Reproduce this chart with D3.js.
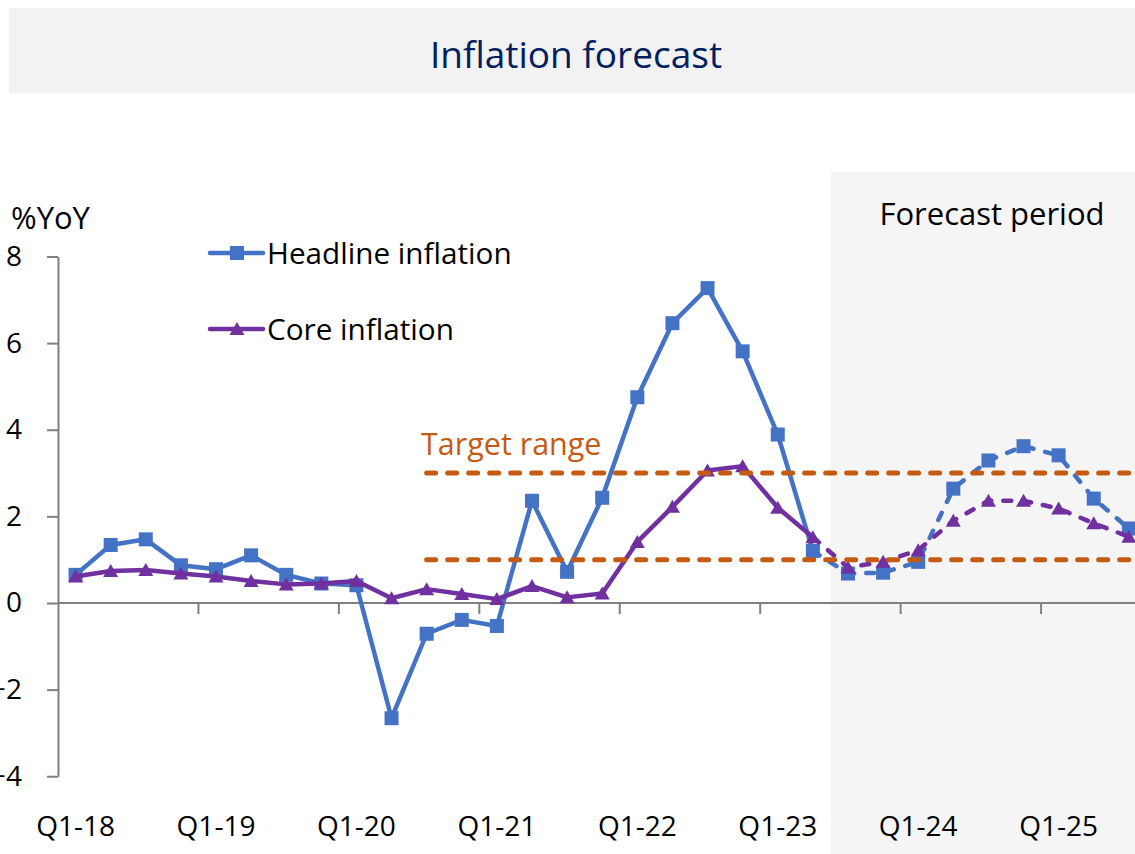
<!DOCTYPE html>
<html><head><meta charset="utf-8">
<script src="https://cdn.jsdelivr.net/npm/d3@7"></script>
<style>
body{margin:0;background:#fff}
svg{display:block}
text{font-family:"Open Sans","Noto Sans",sans-serif}
</style>
</head><body>
<svg id="c" width="1135" height="854"></svg>
<script>
// ---------- DATA ----------
const categories = [
  "Q1-18","Q2-18","Q3-18","Q4-18",
  "Q1-19","Q2-19","Q3-19","Q4-19",
  "Q1-20","Q2-20","Q3-20","Q4-20",
  "Q1-21","Q2-21","Q3-21","Q4-21",
  "Q1-22","Q2-22","Q3-22","Q4-22",
  "Q1-23","Q2-23","Q3-23","Q4-23",
  "Q1-24","Q2-24","Q3-24","Q4-24",
  "Q1-25","Q2-25","Q3-25","Q4-25"
];
const xTickLabels = ["Q1-18","Q1-19","Q1-20","Q1-21","Q1-22","Q1-23","Q1-24","Q1-25"];
const yTickValues = [-4,-2,0,2,4,6,8];

const headline = [0.65,1.34,1.47,0.87,0.78,1.10,0.65,0.45,0.41,-2.66,-0.71,-0.39,-0.53,2.36,0.72,2.43,
                  4.75,6.46,7.27,5.81,3.89,1.20,0.68,0.70,0.95,2.64,3.29,3.62,3.41,2.41,1.72];
const core     = [0.61,0.74,0.76,0.68,0.61,0.51,0.43,0.45,0.51,0.11,0.32,0.21,0.09,0.39,0.13,0.22,
                  1.41,2.22,3.06,3.16,2.20,1.52,0.82,0.95,1.22,1.90,2.36,2.36,2.18,1.84,1.53];
const targetUpper = [null,null,null,null,null,null,null,null,null,null,3,3,3,3,3,3,3,3,3,3,3,3,3,3,3,3,3,3,3,3,3];
const targetLower = [null,null,null,null,null,null,null,null,null,null,1,1,1,1,1,1,1,1,1,1,1,1,1,1,1,1,1,1,1,1,1];
const forecastFrom = "Q2-23";      // dashed lines start here
const shadeFrom = "Q3-23";         // forecast period shading starts here

// ---------- STYLES ----------
const BLUE = "#4472C4", PURPLE = "#7030A0", ORANGE = "#C55A11", AXIS = "#808080";

const svg = d3.select("#c");
const x = d3.scaleBand().domain(categories).range([58, 58 + 32 * 35.11]).padding(0);
const cx = c => x(c) + x.bandwidth() / 2;
const y = d3.scaleLinear().domain([-4, 8]).range([776.25, 256.5]);

// Title box
svg.append("rect").attr("x", 9).attr("y", 8).attr("width", 1135).attr("height", 85).attr("fill", "#f2f2f2");
svg.append("text").attr("x", 576).attr("y", 68).attr("text-anchor", "middle")
  .attr("font-size", 37).attr("fill", "#002060").text("Inflation forecast");

// Forecast shading
svg.append("rect").attr("x", x(shadeFrom)).attr("y", 172)
  .attr("width", 1135 - x(shadeFrom)).attr("height", 854 - 172).attr("fill", "#f5f5f5");
svg.append("text").attr("x", 992).attr("y", 225).attr("text-anchor", "middle")
  .attr("font-size", 31).attr("fill", "#000").text("Forecast period");

// %YoY
svg.append("text").attr("x", 11).attr("y", 229).attr("font-size", 31).attr("fill", "#000").text("%YoY");

// Y axis
const yAxis = svg.append("g").attr("transform", "translate(58,0)")
  .call(d3.axisLeft(y).tickValues(yTickValues).tickSize(11).tickSizeOuter(0).tickPadding(25));
yAxis.selectAll("path,line").attr("stroke", AXIS).attr("stroke-width", 2);
yAxis.selectAll("text").attr("font-size", 28).attr("fill", "#000").attr("font-family", "'Open Sans',sans-serif");

// X axis
const xAxis = svg.append("g").attr("transform", `translate(0,${y(0)})`)
  .call(d3.axisBottom(x).tickValues(xTickLabels).tickSize(0).tickSizeOuter(0));
xAxis.select(".domain").remove();
xAxis.selectAll("text").attr("y", 836 - y(0)).attr("dy", 0)
  .attr("font-size", 28).attr("fill", "#000").attr("font-family", "'Open Sans',sans-serif");
svg.append("line").attr("x1", 58).attr("x2", 1135).attr("y1", y(0)).attr("y2", y(0))
  .attr("stroke", AXIS).attr("stroke-width", 2);
const boundaries = categories.filter((c, i) => i > 0 && i % 4 === 0);
svg.append("g").selectAll("line").data(boundaries).join("line")
  .attr("x1", d => x(d)).attr("x2", d => x(d))
  .attr("y1", y(0)).attr("y2", y(0) + 11)
  .attr("stroke", AXIS).attr("stroke-width", 2);

// Series
function toPts(vals) { return vals.map((v, i) => ({ c: categories[i], v })).filter(d => d.v !== null); }
const line = d3.line().x(d => cx(d.c)).y(d => y(d.v));
const fIdx = categories.indexOf(forecastFrom);

function drawSeries(vals, color, marker) {
  const pts = toPts(vals);
  const g = svg.append("g");
  g.append("path").attr("d", line(pts.slice(0, fIdx + 1))).attr("fill", "none")
    .attr("stroke", color).attr("stroke-width", 4.5).attr("stroke-linejoin", "round");
  g.append("path").attr("d", line(pts.slice(fIdx))).attr("fill", "none")
    .attr("stroke", color).attr("stroke-width", 4.5).attr("stroke-dasharray", "8,12")
    .attr("stroke-linecap", "round").attr("stroke-linejoin", "round");
  if (marker === "square") {
    g.selectAll("rect").data(pts).join("rect")
      .attr("x", d => cx(d.c) - 7).attr("y", d => y(d.v) - 7)
      .attr("width", 14).attr("height", 14).attr("fill", color);
  } else {
    g.selectAll(".tri").data(pts).join("path").attr("class", "tri")
      .attr("d", d => `M${cx(d.c)},${y(d.v) - 7}L${cx(d.c) + 7.5},${y(d.v) + 6}L${cx(d.c) - 7.5},${y(d.v) + 6}Z`)
      .attr("fill", color);
  }
}
drawSeries(headline, BLUE, "square");
drawSeries(core, PURPLE, "triangle");

// Target range lines
[targetUpper, targetLower].forEach(vals => {
  svg.append("path").attr("d", line(toPts(vals))).attr("fill", "none")
    .attr("stroke", ORANGE).attr("stroke-width", 5).attr("stroke-dasharray", "9,12")
    .attr("stroke-linecap", "round");
});
svg.append("text").attr("x", 421).attr("y", 455).attr("font-size", 30.5)
  .attr("fill", ORANGE).text("Target range");

// Legend
const legend = [
  { label: "Headline inflation", color: BLUE, marker: "square", y: 253, ty: 264 },
  { label: "Core inflation", color: PURPLE, marker: "triangle", y: 329, ty: 340 }
];
legend.forEach(l => {
  svg.append("line").attr("x1", 210).attr("x2", 263).attr("y1", l.y).attr("y2", l.y)
    .attr("stroke", l.color).attr("stroke-width", 4.5).attr("stroke-linecap", "round");
  if (l.marker === "square") {
    svg.append("rect").attr("x", 230).attr("y", l.y - 7).attr("width", 14).attr("height", 14).attr("fill", l.color);
  } else {
    svg.append("path").attr("d", `M237,${l.y - 7}L244.5,${l.y + 6}L229.5,${l.y + 6}Z`).attr("fill", l.color);
  }
  svg.append("text").attr("x", 267).attr("y", l.ty).attr("font-size", 29.7).attr("fill", "#000").text(l.label);
});
</script>
</body></html>
